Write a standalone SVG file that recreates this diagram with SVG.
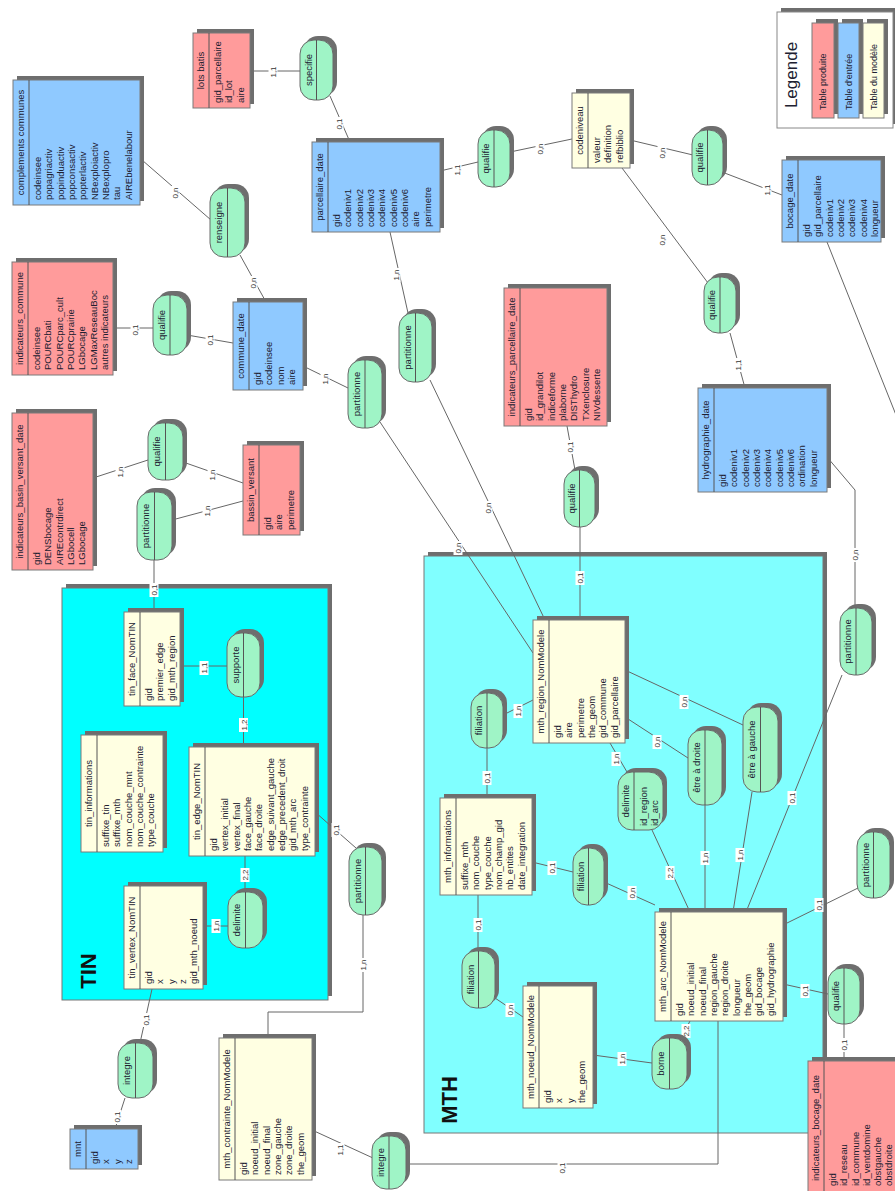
<svg xmlns="http://www.w3.org/2000/svg" width="895" height="1191" viewBox="0 0 895 1191">
<style>
.sh{fill:#6e6e6e}
.red{fill:#ff9b9b;stroke:#7a7a7a}
.blue{fill:#8fc9ff;stroke:#7a7a7a}
.cream{fill:#ffffe2;stroke:#7a7a7a}
.pill{fill:#9ff4c6;stroke:#6a6a6a}
.dv{stroke:#555;stroke-width:1}
text{font-family:"Liberation Sans",Arial,sans-serif;fill:#202030}
.t{font-size:9.5px;text-anchor:middle}
.a{font-size:9.5px}
.p{font-size:9.5px;text-anchor:middle}
.big{font-size:22px;font-weight:bold;text-anchor:middle;fill:#111}
#connectors line,#connectors polyline{stroke:#666;stroke-width:1;fill:none}
.lb rect{fill:#fff}
.lb text{font-size:8px;text-anchor:middle;fill:#333}
</style>
<rect width="895" height="1191" fill="#fff"/>

<g id="TIN">
<rect class="sh" x="66" y="584" width="266" height="412"/>
<rect x="62" y="588" width="266" height="412" fill="#00ffff" stroke="#777"/>
<text class="big" transform="translate(96,971) rotate(-90)">TIN</text>
</g>
<g id="MTH">
<rect class="sh" x="428" y="552" width="399" height="577"/>
<rect x="424" y="556" width="399" height="577" fill="#80ffff" stroke="#777"/>
<text class="big" transform="translate(457,1100) rotate(-90)">MTH</text>
</g>

<g id="connectors">
<line x1="250" y1="71" x2="300" y2="71"/>
<line x1="330" y1="96" x2="350" y2="142"/>
<line x1="440" y1="171" x2="478" y2="162"/>
<line x1="510" y1="152" x2="572" y2="139"/>
<line x1="630" y1="140" x2="693" y2="155"/>
<line x1="722" y1="172" x2="782" y2="195"/>
<line x1="622" y1="168" x2="708" y2="283"/>
<line x1="730" y1="333" x2="745" y2="388"/>
<line x1="827" y1="242" x2="900" y2="425"/>
<line x1="142" y1="160" x2="211" y2="220"/>
<line x1="240" y1="255" x2="266" y2="302"/>
<line x1="113" y1="328" x2="153" y2="328"/>
<line x1="187" y1="335" x2="233" y2="343"/>
<line x1="303" y1="366" x2="348" y2="388"/>
<line x1="380" y1="422" x2="533" y2="653"/>
<line x1="390" y1="232" x2="408" y2="313"/>
<line x1="430" y1="380" x2="545" y2="620"/>
<line x1="567" y1="426" x2="575" y2="470"/>
<line x1="580" y1="527" x2="580" y2="620"/>
<line x1="93" y1="478" x2="148" y2="460"/>
<line x1="183" y1="462" x2="243" y2="483"/>
<line x1="172" y1="520" x2="243" y2="501"/>
<line x1="154" y1="560" x2="154" y2="612"/>
<line x1="180" y1="666" x2="227" y2="666"/>
<line x1="243.5" y1="697" x2="243.5" y2="747"/>
<line x1="245" y1="856" x2="245" y2="892"/>
<line x1="203" y1="926" x2="228" y2="926"/>
<line x1="315" y1="812" x2="356" y2="848"/>
<polyline points="363,915 363,1012 268,1012 268,1038"/>
<line x1="152" y1="989" x2="140" y2="1043"/>
<line x1="125" y1="1098" x2="115" y2="1129"/>
<line x1="312" y1="1130" x2="373" y2="1158"/>
<polyline points="406,1164 718,1164 718,1021"/>
<line x1="533" y1="700" x2="503" y2="715"/>
<line x1="487" y1="748" x2="487" y2="798"/>
<line x1="532" y1="862" x2="573" y2="872"/>
<line x1="604" y1="882" x2="655" y2="905"/>
<line x1="478" y1="895" x2="478" y2="951"/>
<line x1="495" y1="998" x2="523" y2="1017"/>
<line x1="593" y1="1055" x2="652" y2="1063"/>
<line x1="680" y1="1040" x2="690" y2="1021"/>
<line x1="610" y1="743" x2="627" y2="772"/>
<line x1="652" y1="830" x2="690" y2="912"/>
<line x1="625" y1="717" x2="688" y2="758"/>
<line x1="705" y1="805" x2="705" y2="912"/>
<line x1="625" y1="670" x2="743" y2="725"/>
<line x1="752" y1="792" x2="733" y2="912"/>
<line x1="842" y1="675" x2="746" y2="912"/>
<line x1="858" y1="888" x2="783" y2="925"/>
<line x1="783" y1="984" x2="828" y2="994"/>
<line x1="844" y1="1024" x2="844" y2="1061"/>
<polyline points="827,457 855,490 855,608"/>

<g class="lb" transform="translate(273,72)"><rect x="-4.5" y="-7" width="9" height="14"/><text transform="rotate(-90)" y="3">1,1</text></g>
<g class="lb" transform="translate(339,124)"><rect x="-4.5" y="-7" width="9" height="14"/><text transform="rotate(-90)" y="3">0,1</text></g>
<g class="lb" transform="translate(457,170)"><rect x="-4.5" y="-7" width="9" height="14"/><text transform="rotate(-90)" y="3">1,1</text></g>
<g class="lb" transform="translate(540,149)"><rect x="-4.5" y="-7" width="9" height="14"/><text transform="rotate(-90)" y="3">0,n</text></g>
<g class="lb" transform="translate(662,153)"><rect x="-4.5" y="-7" width="9" height="14"/><text transform="rotate(-90)" y="3">0,n</text></g>
<g class="lb" transform="translate(767,190)"><rect x="-4.5" y="-7" width="9" height="14"/><text transform="rotate(-90)" y="3">1,1</text></g>
<g class="lb" transform="translate(662,240)"><rect x="-4.5" y="-7" width="9" height="14"/><text transform="rotate(-90)" y="3">0,n</text></g>
<g class="lb" transform="translate(738,365)"><rect x="-4.5" y="-7" width="9" height="14"/><text transform="rotate(-90)" y="3">1,1</text></g>
<g class="lb" transform="translate(175,193)"><rect x="-4.5" y="-7" width="9" height="14"/><text transform="rotate(-90)" y="3">0,n</text></g>
<g class="lb" transform="translate(253,283)"><rect x="-4.5" y="-7" width="9" height="14"/><text transform="rotate(-90)" y="3">0,n</text></g>
<g class="lb" transform="translate(135,330)"><rect x="-4.5" y="-7" width="9" height="14"/><text transform="rotate(-90)" y="3">0,1</text></g>
<g class="lb" transform="translate(210,340)"><rect x="-4.5" y="-7" width="9" height="14"/><text transform="rotate(-90)" y="3">0,1</text></g>
<g class="lb" transform="translate(325,379)"><rect x="-4.5" y="-7" width="9" height="14"/><text transform="rotate(-90)" y="3">1,n</text></g>
<g class="lb" transform="translate(458,548)"><rect x="-4.5" y="-7" width="9" height="14"/><text transform="rotate(-90)" y="3">0,n</text></g>
<g class="lb" transform="translate(396,275)"><rect x="-4.5" y="-7" width="9" height="14"/><text transform="rotate(-90)" y="3">1,n</text></g>
<g class="lb" transform="translate(488,508)"><rect x="-4.5" y="-7" width="9" height="14"/><text transform="rotate(-90)" y="3">0,n</text></g>
<g class="lb" transform="translate(570,447)"><rect x="-4.5" y="-7" width="9" height="14"/><text transform="rotate(-90)" y="3">0,1</text></g>
<g class="lb" transform="translate(580,578)"><rect x="-4.5" y="-7" width="9" height="14"/><text transform="rotate(-90)" y="3">0,1</text></g>
<g class="lb" transform="translate(120,472)"><rect x="-4.5" y="-7" width="9" height="14"/><text transform="rotate(-90)" y="3">1,n</text></g>
<g class="lb" transform="translate(212,475)"><rect x="-4.5" y="-7" width="9" height="14"/><text transform="rotate(-90)" y="3">1,n</text></g>
<g class="lb" transform="translate(207,511)"><rect x="-4.5" y="-7" width="9" height="14"/><text transform="rotate(-90)" y="3">1,n</text></g>
<g class="lb" transform="translate(154,590)"><rect x="-4.5" y="-7" width="9" height="14"/><text transform="rotate(-90)" y="3">0,1</text></g>
<g class="lb" transform="translate(204,668)"><rect x="-4.5" y="-7" width="9" height="14"/><text transform="rotate(-90)" y="3">1,1</text></g>
<g class="lb" transform="translate(243.5,725)"><rect x="-4.5" y="-7" width="9" height="14"/><text transform="rotate(-90)" y="3">1,2</text></g>
<g class="lb" transform="translate(245,875)"><rect x="-4.5" y="-7" width="9" height="14"/><text transform="rotate(-90)" y="3">2,2</text></g>
<g class="lb" transform="translate(216,926)"><rect x="-4.5" y="-7" width="9" height="14"/><text transform="rotate(-90)" y="3">1,n</text></g>
<g class="lb" transform="translate(336,830)"><rect x="-4.5" y="-7" width="9" height="14"/><text transform="rotate(-90)" y="3">0,1</text></g>
<g class="lb" transform="translate(363,965)"><rect x="-4.5" y="-7" width="9" height="14"/><text transform="rotate(-90)" y="3">1,n</text></g>
<g class="lb" transform="translate(146,1020)"><rect x="-4.5" y="-7" width="9" height="14"/><text transform="rotate(-90)" y="3">0,1</text></g>
<g class="lb" transform="translate(117,1117)"><rect x="-4.5" y="-7" width="9" height="14"/><text transform="rotate(-90)" y="3">0,1</text></g>
<g class="lb" transform="translate(340,1150)"><rect x="-4.5" y="-7" width="9" height="14"/><text transform="rotate(-90)" y="3">1,1</text></g>
<g class="lb" transform="translate(562,1168)"><rect x="-4.5" y="-7" width="9" height="14"/><text transform="rotate(-90)" y="3">0,1</text></g>
<g class="lb" transform="translate(518,711)"><rect x="-4.5" y="-7" width="9" height="14"/><text transform="rotate(-90)" y="3">1,n</text></g>
<g class="lb" transform="translate(487,778)"><rect x="-4.5" y="-7" width="9" height="14"/><text transform="rotate(-90)" y="3">0,1</text></g>
<g class="lb" transform="translate(552,868)"><rect x="-4.5" y="-7" width="9" height="14"/><text transform="rotate(-90)" y="3">0,1</text></g>
<g class="lb" transform="translate(632,893)"><rect x="-4.5" y="-7" width="9" height="14"/><text transform="rotate(-90)" y="3">0,n</text></g>
<g class="lb" transform="translate(478,925)"><rect x="-4.5" y="-7" width="9" height="14"/><text transform="rotate(-90)" y="3">0,1</text></g>
<g class="lb" transform="translate(510,1010)"><rect x="-4.5" y="-7" width="9" height="14"/><text transform="rotate(-90)" y="3">0,n</text></g>
<g class="lb" transform="translate(622,1059)"><rect x="-4.5" y="-7" width="9" height="14"/><text transform="rotate(-90)" y="3">1,n</text></g>
<g class="lb" transform="translate(686,1031)"><rect x="-4.5" y="-7" width="9" height="14"/><text transform="rotate(-90)" y="3">2,2</text></g>
<g class="lb" transform="translate(616,759)"><rect x="-4.5" y="-7" width="9" height="14"/><text transform="rotate(-90)" y="3">1,n</text></g>
<g class="lb" transform="translate(670,873)"><rect x="-4.5" y="-7" width="9" height="14"/><text transform="rotate(-90)" y="3">2,2</text></g>
<g class="lb" transform="translate(657,742)"><rect x="-4.5" y="-7" width="9" height="14"/><text transform="rotate(-90)" y="3">0,n</text></g>
<g class="lb" transform="translate(705,858)"><rect x="-4.5" y="-7" width="9" height="14"/><text transform="rotate(-90)" y="3">1,n</text></g>
<g class="lb" transform="translate(684,702)"><rect x="-4.5" y="-7" width="9" height="14"/><text transform="rotate(-90)" y="3">0,n</text></g>
<g class="lb" transform="translate(740,855)"><rect x="-4.5" y="-7" width="9" height="14"/><text transform="rotate(-90)" y="3">1,n</text></g>
<g class="lb" transform="translate(792,798)"><rect x="-4.5" y="-7" width="9" height="14"/><text transform="rotate(-90)" y="3">0,1</text></g>
<g class="lb" transform="translate(819,905)"><rect x="-4.5" y="-7" width="9" height="14"/><text transform="rotate(-90)" y="3">0,1</text></g>
<g class="lb" transform="translate(805,991)"><rect x="-4.5" y="-7" width="9" height="14"/><text transform="rotate(-90)" y="3">0,1</text></g>
<g class="lb" transform="translate(844,1045)"><rect x="-4.5" y="-7" width="9" height="14"/><text transform="rotate(-90)" y="3">0,1</text></g>
<g class="lb" transform="translate(855,555)"><rect x="-4.5" y="-7" width="9" height="14"/><text transform="rotate(-90)" y="3">0,n</text></g>
</g>

<g id="legende">
<rect class="sh" x="781" y="8" width="116" height="116"/>
<rect x="777" y="12" width="116" height="116" fill="#fff" stroke="#888"/>
<text transform="translate(797,75) rotate(-90)" style="font-size:17px;text-anchor:middle">Legende</text>
<rect class="sh" x="816" y="19" width="22" height="95"/>
<rect class="red" x="812" y="23" width="22" height="95"/>
<text transform="translate(826.3,110) rotate(-90)" style="font-size:9px">Table produite</text>
<rect class="sh" x="842" y="19" width="21" height="95"/>
<rect class="blue" x="838" y="23" width="21" height="95"/>
<text transform="translate(851.8,110) rotate(-90)" style="font-size:9px">Table d'entrée</text>
<rect class="sh" x="867" y="19" width="21" height="95"/>
<rect class="cream" x="863" y="23" width="21" height="95"/>
<text transform="translate(876.8,110) rotate(-90)" style="font-size:9px">Table du modèle</text>
</g>

<g id="complements_communes">
<rect class="sh" x="17" y="76" width="127" height="125"/><rect class="blue" x="13" y="80" width="127" height="125"/><line class="dv" x1="29" y1="80" x2="29" y2="205"/>
<text class="t" transform="translate(24.4,142.5) rotate(-90)">complements communes</text>
<text class="a" transform="translate(41.1,200) rotate(-90)">codeinsee</text>
<text class="a" transform="translate(52.4,200) rotate(-90)">popagriactiv</text>
<text class="a" transform="translate(63.7,200) rotate(-90)">popinduactiv</text>
<text class="a" transform="translate(75,200) rotate(-90)">popconsactiv</text>
<text class="a" transform="translate(86.3,200) rotate(-90)">popterlactiv</text>
<text class="a" transform="translate(97.6,200) rotate(-90)">NBexploiactiv</text>
<text class="a" transform="translate(108.9,200) rotate(-90)">NBexplopro</text>
<text class="a" transform="translate(120.2,200) rotate(-90)">tau</text>
<text class="a" transform="translate(131.5,200) rotate(-90)">AIREbenelabour</text>
</g>
<g id="lots_batis">
<rect class="sh" x="197" y="29" width="57" height="75"/><rect class="red" x="193" y="33" width="57" height="75"/><line class="dv" x1="209" y1="33" x2="209" y2="108"/>
<text class="t" transform="translate(204.4,70.5) rotate(-90)">lots batis</text>
<text class="a" transform="translate(221.1,103) rotate(-90)">gid_parcellaire</text>
<text class="a" transform="translate(232.4,103) rotate(-90)">id_lot</text>
<text class="a" transform="translate(243.7,103) rotate(-90)">aire</text>
</g>
<g id="parcellaire_date">
<rect class="sh" x="316" y="138" width="128" height="90"/><rect class="blue" x="312" y="142" width="128" height="90"/><line class="dv" x1="328" y1="142" x2="328" y2="232"/>
<text class="t" transform="translate(323.4,187) rotate(-90)">parcellaire_date</text>
<text class="a" transform="translate(340.1,227) rotate(-90)">gid</text>
<text class="a" transform="translate(351.4,227) rotate(-90)">codeniv1</text>
<text class="a" transform="translate(362.7,227) rotate(-90)">codeniv2</text>
<text class="a" transform="translate(374,227) rotate(-90)">codeniv3</text>
<text class="a" transform="translate(385.3,227) rotate(-90)">codeniv4</text>
<text class="a" transform="translate(396.6,227) rotate(-90)">codeniv5</text>
<text class="a" transform="translate(407.9,227) rotate(-90)">codeniv6</text>
<text class="a" transform="translate(419.2,227) rotate(-90)">aire</text>
<text class="a" transform="translate(430.5,227) rotate(-90)">perimetre</text>
</g>
<g id="codeniveau">
<rect class="sh" x="576" y="89" width="58" height="75"/><rect class="cream" x="572" y="93" width="58" height="75"/><line class="dv" x1="588" y1="93" x2="588" y2="168"/>
<text class="t" transform="translate(583.4,130.5) rotate(-90)">codeniveau</text>
<text class="a" transform="translate(600.1,163) rotate(-90)">valeur</text>
<text class="a" transform="translate(611.4,163) rotate(-90)">definition</text>
<text class="a" transform="translate(622.7,163) rotate(-90)">refbiblio</text>
</g>
<g id="bocage_date">
<rect class="sh" x="786" y="156" width="99" height="82"/><rect class="blue" x="782" y="160" width="99" height="82"/><line class="dv" x1="798" y1="160" x2="798" y2="242"/>
<text class="t" transform="translate(793.4,201) rotate(-90)">bocage_date</text>
<text class="a" transform="translate(810.1,237) rotate(-90)">gid</text>
<text class="a" transform="translate(821.4,237) rotate(-90)">gid_parcellaire</text>
<text class="a" transform="translate(832.7,237) rotate(-90)">codeniv1</text>
<text class="a" transform="translate(844,237) rotate(-90)">codeniv2</text>
<text class="a" transform="translate(855.3,237) rotate(-90)">codeniv3</text>
<text class="a" transform="translate(866.6,237) rotate(-90)">codeniv4</text>
<text class="a" transform="translate(877.9,237) rotate(-90)">longueur</text>
</g>
<g id="hydrographie_date">
<rect class="sh" x="702" y="384" width="129" height="104"/><rect class="blue" x="698" y="388" width="129" height="104"/><line class="dv" x1="714" y1="388" x2="714" y2="492"/>
<text class="t" transform="translate(709.4,440) rotate(-90)">hydrographie_date</text>
<text class="a" transform="translate(726.1,487) rotate(-90)">gid</text>
<text class="a" transform="translate(737.4,487) rotate(-90)">codeniv1</text>
<text class="a" transform="translate(748.7,487) rotate(-90)">codeniv2</text>
<text class="a" transform="translate(760,487) rotate(-90)">codeniv3</text>
<text class="a" transform="translate(771.3,487) rotate(-90)">codeniv4</text>
<text class="a" transform="translate(782.6,487) rotate(-90)">codeniv5</text>
<text class="a" transform="translate(793.9,487) rotate(-90)">codeniv6</text>
<text class="a" transform="translate(805.2,487) rotate(-90)">ordination</text>
<text class="a" transform="translate(816.5,487) rotate(-90)">longueur</text>
</g>
<g id="indicateurs_commune">
<rect class="sh" x="16" y="258" width="101" height="113"/><rect class="red" x="12" y="262" width="101" height="113"/><line class="dv" x1="28" y1="262" x2="28" y2="375"/>
<text class="t" transform="translate(23.4,318.5) rotate(-90)">indicateurs_commune</text>
<text class="a" transform="translate(40.1,370) rotate(-90)">codeinsee</text>
<text class="a" transform="translate(51.4,370) rotate(-90)">POURCbati</text>
<text class="a" transform="translate(62.7,370) rotate(-90)">POURCparc_cult</text>
<text class="a" transform="translate(74,370) rotate(-90)">POURCprairie</text>
<text class="a" transform="translate(85.3,370) rotate(-90)">LGbocage</text>
<text class="a" transform="translate(96.6,370) rotate(-90)">LGMaxReseauBoc</text>
<text class="a" transform="translate(107.9,370) rotate(-90)">autres indicateurs</text>
</g>
<g id="commune_date">
<rect class="sh" x="237" y="298" width="70" height="88"/><rect class="blue" x="233" y="302" width="70" height="88"/><line class="dv" x1="249" y1="302" x2="249" y2="390"/>
<text class="t" transform="translate(244.4,346) rotate(-90)">commune_date</text>
<text class="a" transform="translate(261.1,385) rotate(-90)">gid</text>
<text class="a" transform="translate(272.4,385) rotate(-90)">codeinsee</text>
<text class="a" transform="translate(283.7,385) rotate(-90)">nom</text>
<text class="a" transform="translate(295,385) rotate(-90)">aire</text>
</g>
<g id="indicateurs_basin_versant_date">
<rect class="sh" x="16" y="409" width="81" height="157"/><rect class="red" x="12" y="413" width="81" height="157"/><line class="dv" x1="28" y1="413" x2="28" y2="570"/>
<text class="t" transform="translate(23.4,491.5) rotate(-90)">indicateurs_basin_versant_date</text>
<text class="a" transform="translate(40.1,565) rotate(-90)">gid</text>
<text class="a" transform="translate(51.4,565) rotate(-90)">DENSbocage</text>
<text class="a" transform="translate(62.7,565) rotate(-90)">AIREcontrdirect</text>
<text class="a" transform="translate(74,565) rotate(-90)">LGbocell</text>
<text class="a" transform="translate(85.3,565) rotate(-90)">LGbocage</text>
</g>
<g id="bassin_versant">
<rect class="sh" x="247" y="441" width="57" height="90"/><rect class="red" x="243" y="445" width="57" height="90"/><line class="dv" x1="259" y1="445" x2="259" y2="535"/>
<text class="t" transform="translate(254.4,490) rotate(-90)">bassin_versant</text>
<text class="a" transform="translate(271.1,530) rotate(-90)">gid</text>
<text class="a" transform="translate(282.4,530) rotate(-90)">aire</text>
<text class="a" transform="translate(293.7,530) rotate(-90)">perimetre</text>
</g>
<g id="indicateurs_parcellaire_date">
<rect class="sh" x="508" y="284" width="103" height="138"/><rect class="red" x="504" y="288" width="103" height="138"/><line class="dv" x1="520" y1="288" x2="520" y2="426"/>
<text class="t" transform="translate(515.4,357) rotate(-90)">indicateurs_parcellaire_date</text>
<text class="a" transform="translate(532.1,421) rotate(-90)">gid</text>
<text class="a" transform="translate(543.4,421) rotate(-90)">id_grandilot</text>
<text class="a" transform="translate(554.7,421) rotate(-90)">indiceforme</text>
<text class="a" transform="translate(566,421) rotate(-90)">plaborne</text>
<text class="a" transform="translate(577.3,421) rotate(-90)">DISThydro</text>
<text class="a" transform="translate(588.6,421) rotate(-90)">TXenclosure</text>
<text class="a" transform="translate(599.9,421) rotate(-90)">NIVdesserte</text>
</g>
<g id="tin_face_NomTIN">
<rect class="sh" x="128" y="608" width="56" height="94"/><rect class="cream" x="124" y="612" width="56" height="94"/><line class="dv" x1="140" y1="612" x2="140" y2="706"/>
<text class="t" transform="translate(135.4,659) rotate(-90)">tin_face_NomTIN</text>
<text class="a" transform="translate(152.1,701) rotate(-90)">gid</text>
<text class="a" transform="translate(163.4,701) rotate(-90)">premier_edge</text>
<text class="a" transform="translate(174.7,701) rotate(-90)">gid_mth_region</text>
</g>
<g id="tin_informations">
<rect class="sh" x="85" y="731" width="82" height="117"/><rect class="cream" x="81" y="735" width="82" height="117"/><line class="dv" x1="97" y1="735" x2="97" y2="852"/>
<text class="t" transform="translate(92.4,793.5) rotate(-90)">tin_informations</text>
<text class="a" transform="translate(109.1,847) rotate(-90)">suffixe_tin</text>
<text class="a" transform="translate(120.4,847) rotate(-90)">suffixe_mth</text>
<text class="a" transform="translate(131.7,847) rotate(-90)">nom_couche_mnt</text>
<text class="a" transform="translate(143,847) rotate(-90)">nom_couche_contrainte</text>
<text class="a" transform="translate(154.3,847) rotate(-90)">type_couche</text>
</g>
<g id="tin_edge_NomTIN">
<rect class="sh" x="193" y="743" width="126" height="109"/><rect class="cream" x="189" y="747" width="126" height="109"/><line class="dv" x1="205" y1="747" x2="205" y2="856"/>
<text class="t" transform="translate(200.4,801.5) rotate(-90)">tin_edge_NomTIN</text>
<text class="a" transform="translate(217.1,851) rotate(-90)">gid</text>
<text class="a" transform="translate(228.4,851) rotate(-90)">vertex_initial</text>
<text class="a" transform="translate(239.7,851) rotate(-90)">vertex_final</text>
<text class="a" transform="translate(251,851) rotate(-90)">face_gauche</text>
<text class="a" transform="translate(262.3,851) rotate(-90)">face_droite</text>
<text class="a" transform="translate(273.6,851) rotate(-90)">edge_suivant_gauche</text>
<text class="a" transform="translate(284.9,851) rotate(-90)">edge_precedent_droit</text>
<text class="a" transform="translate(296.2,851) rotate(-90)">gid_mth_arc</text>
<text class="a" transform="translate(307.5,851) rotate(-90)">type_contrainte</text>
</g>
<g id="tin_vertex_NomTIN">
<rect class="sh" x="128" y="882" width="79" height="103"/><rect class="cream" x="124" y="886" width="79" height="103"/><line class="dv" x1="140" y1="886" x2="140" y2="989"/>
<text class="t" transform="translate(135.4,937.5) rotate(-90)">tin_vertex_NomTIN</text>
<text class="a" transform="translate(152.1,984) rotate(-90)">gid</text>
<text class="a" transform="translate(163.4,984) rotate(-90)">x</text>
<text class="a" transform="translate(174.7,984) rotate(-90)">y</text>
<text class="a" transform="translate(186,984) rotate(-90)">z</text>
<text class="a" transform="translate(197.3,984) rotate(-90)">gid_mth_noeud</text>
</g>
<g id="mnt">
<rect class="sh" x="74" y="1125" width="68" height="40"/><rect class="blue" x="70" y="1129" width="68" height="40"/><line class="dv" x1="86" y1="1129" x2="86" y2="1169"/>
<text class="t" transform="translate(81.4,1149) rotate(-90)">mnt</text>
<text class="a" transform="translate(98.1,1164) rotate(-90)">gid</text>
<text class="a" transform="translate(109.4,1164) rotate(-90)">x</text>
<text class="a" transform="translate(120.7,1164) rotate(-90)">y</text>
<text class="a" transform="translate(132,1164) rotate(-90)">z</text>
</g>
<g id="mth_contrainte_NomModele">
<rect class="sh" x="223" y="1034" width="93" height="142"/><rect class="cream" x="219" y="1038" width="93" height="142"/><line class="dv" x1="235" y1="1038" x2="235" y2="1180"/>
<text class="t" transform="translate(230.4,1109) rotate(-90)">mth_contrainte_NomModele</text>
<text class="a" transform="translate(247.1,1175) rotate(-90)">gid</text>
<text class="a" transform="translate(258.4,1175) rotate(-90)">noeud_initial</text>
<text class="a" transform="translate(269.7,1175) rotate(-90)">noeud_final</text>
<text class="a" transform="translate(281,1175) rotate(-90)">zone_gauche</text>
<text class="a" transform="translate(292.3,1175) rotate(-90)">zone_droite</text>
<text class="a" transform="translate(303.6,1175) rotate(-90)">the_geom</text>
</g>
<g id="mth_region_NomModele">
<rect class="sh" x="537" y="616" width="92" height="123"/><rect class="cream" x="533" y="620" width="92" height="123"/><line class="dv" x1="549" y1="620" x2="549" y2="743"/>
<text class="t" transform="translate(544.4,681.5) rotate(-90)">mth_region_NomModele</text>
<text class="a" transform="translate(561.1,738) rotate(-90)">gid</text>
<text class="a" transform="translate(572.4,738) rotate(-90)">aire</text>
<text class="a" transform="translate(583.7,738) rotate(-90)">perimetre</text>
<text class="a" transform="translate(595,738) rotate(-90)">the_geom</text>
<text class="a" transform="translate(606.3,738) rotate(-90)">gid_commune</text>
<text class="a" transform="translate(617.6,738) rotate(-90)">gid_parcellaire</text>
</g>
<g id="mth_informations">
<rect class="sh" x="444" y="794" width="92" height="97"/><rect class="cream" x="440" y="798" width="92" height="97"/><line class="dv" x1="456" y1="798" x2="456" y2="895"/>
<text class="t" transform="translate(451.4,846.5) rotate(-90)">mth_informations</text>
<text class="a" transform="translate(468.1,890) rotate(-90)">suffixe_mth</text>
<text class="a" transform="translate(479.4,890) rotate(-90)">nom_couche</text>
<text class="a" transform="translate(490.7,890) rotate(-90)">type_couche</text>
<text class="a" transform="translate(502,890) rotate(-90)">nom_champ_gid</text>
<text class="a" transform="translate(513.3,890) rotate(-90)">nb_entites</text>
<text class="a" transform="translate(524.6,890) rotate(-90)">date_integration</text>
</g>
<g id="mth_noeud_NomModele">
<rect class="sh" x="527" y="982" width="70" height="122"/><rect class="cream" x="523" y="986" width="70" height="122"/><line class="dv" x1="539" y1="986" x2="539" y2="1108"/>
<text class="t" transform="translate(534.4,1047) rotate(-90)">mth_noeud_NomModele</text>
<text class="a" transform="translate(551.1,1103) rotate(-90)">gid</text>
<text class="a" transform="translate(562.4,1103) rotate(-90)">x</text>
<text class="a" transform="translate(573.7,1103) rotate(-90)">y</text>
<text class="a" transform="translate(585,1103) rotate(-90)">the_geom</text>
</g>
<g id="mth_arc_NomModele">
<rect class="sh" x="659" y="908" width="128" height="109"/><rect class="cream" x="655" y="912" width="128" height="109"/><line class="dv" x1="671" y1="912" x2="671" y2="1021"/>
<text class="t" transform="translate(666.4,966.5) rotate(-90)">mth_arc_NomModele</text>
<text class="a" transform="translate(683.1,1016) rotate(-90)">gid</text>
<text class="a" transform="translate(694.4,1016) rotate(-90)">noeud_initial</text>
<text class="a" transform="translate(705.7,1016) rotate(-90)">noeud_final</text>
<text class="a" transform="translate(717,1016) rotate(-90)">region_gauche</text>
<text class="a" transform="translate(728.3,1016) rotate(-90)">region_droite</text>
<text class="a" transform="translate(739.6,1016) rotate(-90)">longueur</text>
<text class="a" transform="translate(750.9,1016) rotate(-90)">the_geom</text>
<text class="a" transform="translate(762.2,1016) rotate(-90)">gid_bocage</text>
<text class="a" transform="translate(773.5,1016) rotate(-90)">gid_hydrographie</text>
</g>
<g id="indicateurs_bocage_date">
<rect class="sh" x="812" y="1057" width="100" height="140"/><rect class="red" x="808" y="1061" width="100" height="140"/><line class="dv" x1="824" y1="1061" x2="824" y2="1201"/>
<text class="t" transform="translate(819.4,1128) rotate(-90)">indicateurs_bocage_date</text>
<text class="a" transform="translate(836.1,1186) rotate(-90)">gid</text>
<text class="a" transform="translate(847.4,1186) rotate(-90)">id_reseau</text>
<text class="a" transform="translate(858.7,1186) rotate(-90)">id_commune</text>
<text class="a" transform="translate(870,1186) rotate(-90)">id_ventdomine</text>
<text class="a" transform="translate(881.3,1186) rotate(-90)">obstgauche</text>
<text class="a" transform="translate(892.3,1186) rotate(-90)">obstdroite</text>
</g>

<g id="r-specifie"><rect class="sh" x="304" y="36" width="33" height="60" rx="14"/><rect class="pill" x="300" y="40" width="33" height="60" rx="14"/><line class="dv" x1="316.5" y1="40" x2="316.5" y2="100"/><text class="p" transform="translate(311.7,70) rotate(-90)">specifie</text></g>
<g id="r-qualifie1"><rect class="sh" x="482" y="126" width="32" height="57" rx="14"/><rect class="pill" x="478" y="130" width="32" height="57" rx="14"/><line class="dv" x1="494" y1="130" x2="494" y2="187"/><text class="p" transform="translate(489.4,158.5) rotate(-90)">qualifie</text></g>
<g id="r-qualifie2"><rect class="sh" x="696" y="126" width="31" height="55" rx="14"/><rect class="pill" x="692" y="130" width="31" height="55" rx="14"/><line class="dv" x1="707.5" y1="130" x2="707.5" y2="185"/><text class="p" transform="translate(703.2,157.5) rotate(-90)">qualifie</text></g>
<g id="r-qualifie3"><rect class="sh" x="708" y="273" width="32" height="56" rx="14"/><rect class="pill" x="704" y="277" width="32" height="56" rx="14"/><line class="dv" x1="720" y1="277" x2="720" y2="333"/><text class="p" transform="translate(715.4,305) rotate(-90)">qualifie</text></g>
<g id="r-renseigne"><rect class="sh" x="214" y="184" width="35" height="69" rx="14"/><rect class="pill" x="210" y="188" width="35" height="69" rx="14"/><line class="dv" x1="227.5" y1="188" x2="227.5" y2="257"/><text class="p" transform="translate(222.2,222.5) rotate(-90)">renseigne</text></g>
<g id="r-qualifie4"><rect class="sh" x="157" y="291" width="34" height="60" rx="14"/><rect class="pill" x="153" y="295" width="34" height="60" rx="14"/><line class="dv" x1="170" y1="295" x2="170" y2="355"/><text class="p" transform="translate(164.9,325) rotate(-90)">qualifie</text></g>
<g id="r-partitionne1"><rect class="sh" x="352" y="356" width="34" height="68" rx="14"/><rect class="pill" x="348" y="360" width="34" height="68" rx="14"/><line class="dv" x1="365" y1="360" x2="365" y2="428"/><text class="p" transform="translate(359.9,394) rotate(-90)">partitionne</text></g>
<g id="r-partitionne2"><rect class="sh" x="403" y="309" width="33" height="69" rx="14"/><rect class="pill" x="399" y="313" width="33" height="69" rx="14"/><line class="dv" x1="415.5" y1="313" x2="415.5" y2="382"/><text class="p" transform="translate(410.7,347.5) rotate(-90)">partitionne</text></g>
<g id="r-qualifie5"><rect class="sh" x="568" y="466" width="31" height="57" rx="14"/><rect class="pill" x="564" y="470" width="31" height="57" rx="14"/><line class="dv" x1="579.5" y1="470" x2="579.5" y2="527"/><text class="p" transform="translate(575.2,498.5) rotate(-90)">qualifie</text></g>
<g id="r-qualifie6"><rect class="sh" x="152" y="419" width="35" height="57" rx="14"/><rect class="pill" x="148" y="423" width="35" height="57" rx="14"/><line class="dv" x1="165.5" y1="423" x2="165.5" y2="480"/><text class="p" transform="translate(160.2,451.5) rotate(-90)">qualifie</text></g>
<g id="r-partitionne3"><rect class="sh" x="141" y="488" width="35" height="68" rx="14"/><rect class="pill" x="137" y="492" width="35" height="68" rx="14"/><line class="dv" x1="154.5" y1="492" x2="154.5" y2="560"/><text class="p" transform="translate(149.2,526) rotate(-90)">partitionne</text></g>
<g id="r-supporte"><rect class="sh" x="231" y="629" width="33" height="64" rx="14"/><rect class="pill" x="227" y="633" width="33" height="64" rx="14"/><line class="dv" x1="243.5" y1="633" x2="243.5" y2="697"/><text class="p" transform="translate(238.7,665) rotate(-90)">supporte</text></g>
<g id="r-delimite1"><rect class="sh" x="232" y="888" width="35" height="56" rx="14"/><rect class="pill" x="228" y="892" width="35" height="56" rx="14"/><line class="dv" x1="245.5" y1="892" x2="245.5" y2="948"/><text class="p" transform="translate(240.2,920) rotate(-90)">delimite</text></g>
<g id="r-partitionne4"><rect class="sh" x="353" y="843" width="33" height="68" rx="14"/><rect class="pill" x="349" y="847" width="33" height="68" rx="14"/><line class="dv" x1="365.5" y1="847" x2="365.5" y2="915"/><text class="p" transform="translate(360.7,881) rotate(-90)">partitionne</text></g>
<g id="r-integre1"><rect class="sh" x="122" y="1039" width="35" height="55" rx="14"/><rect class="pill" x="118" y="1043" width="35" height="55" rx="14"/><line class="dv" x1="135.5" y1="1043" x2="135.5" y2="1098"/><text class="p" transform="translate(130.2,1070.5) rotate(-90)">integre</text></g>
<g id="r-integre2"><rect class="sh" x="376" y="1132" width="34" height="53" rx="14"/><rect class="pill" x="372" y="1136" width="34" height="53" rx="14"/><line class="dv" x1="389" y1="1136" x2="389" y2="1189"/><text class="p" transform="translate(383.9,1162.5) rotate(-90)">integre</text></g>
<g id="r-filiation1"><rect class="sh" x="475" y="689" width="32" height="55" rx="14"/><rect class="pill" x="471" y="693" width="32" height="55" rx="14"/><line class="dv" x1="487" y1="693" x2="487" y2="748"/><text class="p" transform="translate(482.4,720.5) rotate(-90)">filiation</text></g>
<g id="r-filiation2"><rect class="sh" x="577" y="844" width="31" height="57" rx="14"/><rect class="pill" x="573" y="848" width="31" height="57" rx="14"/><line class="dv" x1="588.5" y1="848" x2="588.5" y2="905"/><text class="p" transform="translate(584.2,876.5) rotate(-90)">filiation</text></g>
<g id="r-filiation3"><rect class="sh" x="466" y="947" width="33" height="57" rx="14"/><rect class="pill" x="462" y="951" width="33" height="57" rx="14"/><line class="dv" x1="478.5" y1="951" x2="478.5" y2="1008"/><text class="p" transform="translate(473.7,979.5) rotate(-90)">filiation</text></g>
<g id="r-borne"><rect class="sh" x="656" y="1034" width="35" height="51" rx="14"/><rect class="pill" x="652" y="1038" width="35" height="51" rx="14"/><line class="dv" x1="669.5" y1="1038" x2="669.5" y2="1089"/><text class="p" transform="translate(664.2,1063.5) rotate(-90)">borne</text></g>
<g id="r-delimite2"><rect class="sh" x="622" y="768" width="45" height="58" rx="14"/><rect class="pill" x="618" y="772" width="45" height="58" rx="14"/><line class="dv" x1="634" y1="772" x2="634" y2="830"/><text class="p" transform="translate(629.4,801) rotate(-90)">delimite</text><text class="a" transform="translate(647,826) rotate(-90)">id_region</text><text class="a" transform="translate(658,826) rotate(-90)">id_arc</text></g>
<g id="r-etre-droite"><rect class="sh" x="692" y="726" width="34" height="75" rx="14"/><rect class="pill" x="688" y="730" width="34" height="75" rx="14"/><line class="dv" x1="705" y1="730" x2="705" y2="805"/><text class="p" transform="translate(699.9,767.5) rotate(-90)">être à droite</text></g>
<g id="r-etre-gauche"><rect class="sh" x="747" y="703" width="35" height="85" rx="14"/><rect class="pill" x="743" y="707" width="35" height="85" rx="14"/><line class="dv" x1="760.5" y1="707" x2="760.5" y2="792"/><text class="p" transform="translate(755.2,749.5) rotate(-90)">être à gauche</text></g>
<g id="r-partitionne5"><rect class="sh" x="844" y="604" width="32" height="67" rx="14"/><rect class="pill" x="840" y="608" width="32" height="67" rx="14"/><line class="dv" x1="856" y1="608" x2="856" y2="675"/><text class="p" transform="translate(851.4,641.5) rotate(-90)">partitionne</text></g>
<g id="r-partitionne6"><rect class="sh" x="861" y="828" width="33" height="66" rx="14"/><rect class="pill" x="857" y="832" width="33" height="66" rx="14"/><line class="dv" x1="873.5" y1="832" x2="873.5" y2="898"/><text class="p" transform="translate(868.7,865) rotate(-90)">partitionne</text></g>
<g id="r-qualifie7"><rect class="sh" x="832" y="964" width="32" height="56" rx="14"/><rect class="pill" x="828" y="968" width="32" height="56" rx="14"/><line class="dv" x1="844" y1="968" x2="844" y2="1024"/><text class="p" transform="translate(839.4,996) rotate(-90)">qualifie</text></g>
</svg>
